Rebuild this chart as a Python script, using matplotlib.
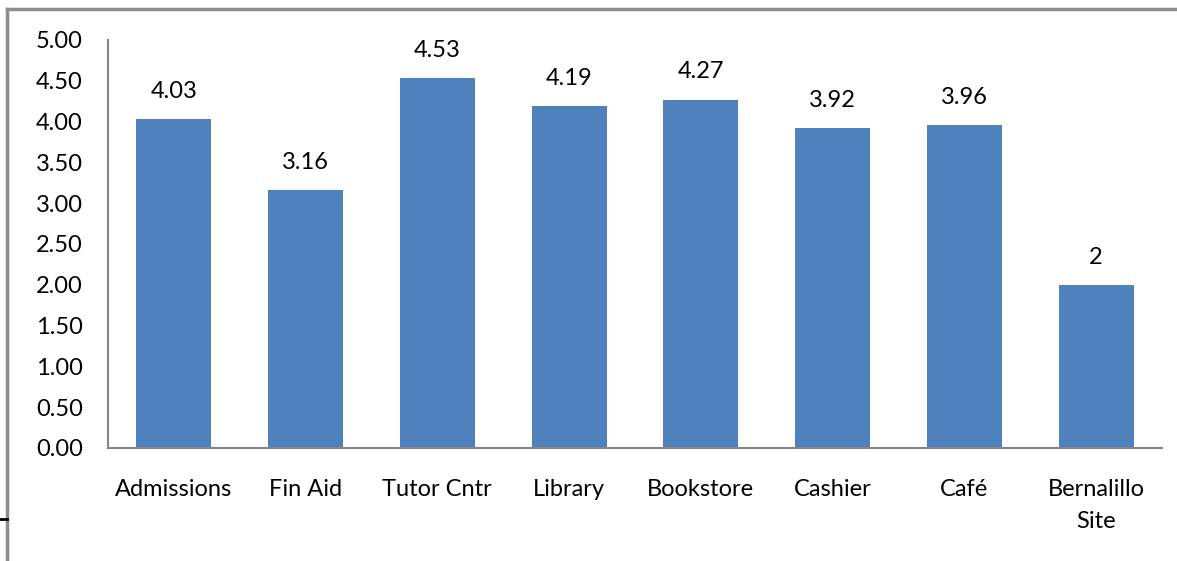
import matplotlib.pyplot as plt
from matplotlib.lines import Line2D

categories = ['Admissions', 'Fin Aid', 'Tutor Cntr', 'Library', 'Bookstore',
              'Cashier', 'Café', 'Bernalillo\nSite']
values = [4.03, 3.16, 4.53, 4.19, 4.27, 3.92, 3.96, 2.00]
value_labels = ['4.03', '3.16', '4.53', '4.19', '4.27', '3.92', '3.96', '2']
yticks = [0, 0.5, 1.0, 1.5, 2.0, 2.5, 3.0, 3.5, 4.0, 4.5, 5.0]

plt.rcParams['font.family'] = ['Lato', 'DejaVu Sans']
FS = 17

fig = plt.figure(figsize=(11.77, 5.61), dpi=100)
ax = fig.add_axes([108/1177, 1 - 448/561, (1162 - 108)/1177, (448 - 40)/561])

x = range(len(categories))
ax.bar(x, values, width=0.57, color='#4F81BD')
for i, (v, lab) in enumerate(zip(values, value_labels)):
    ax.text(i, v + 0.34, lab, ha='center', va='center', fontsize=FS, color='black')

ax.set_xlim(-0.5, len(categories) - 0.5)
ax.set_ylim(0, 5)
ax.set_yticks(yticks)
ax.set_yticklabels([f'{t:.2f}' for t in yticks], fontsize=FS)
ax.set_xticks(list(x))
ax.set_xticklabels(categories, fontsize=FS, linespacing=1.65, va='top')
ax.tick_params(axis='both', length=0)
ax.tick_params(axis='y', pad=18)
ax.tick_params(axis='x', pad=22)

for side in ['top', 'right']:
    ax.spines[side].set_visible(False)
for side in ['left', 'bottom']:
    ax.spines[side].set_color('#868686')
    ax.spines[side].set_linewidth(1.5)

# outer chart frame (top and left edges visible)
fig.add_artist(Line2D([7/1177, 1], [1 - 9/561, 1 - 9/561], color='#8c8c8c', lw=2.5,
                      transform=fig.transFigure))
fig.add_artist(Line2D([7/1177, 7/1177], [0, 1 - 9/561], color='#8c8c8c', lw=2.5,
                      transform=fig.transFigure))
fig.add_artist(Line2D([0, 7/1177], [1 - 519/561, 1 - 519/561], color='black', lw=2,
                      transform=fig.transFigure))

fig.savefig('out.png', dpi=100)
